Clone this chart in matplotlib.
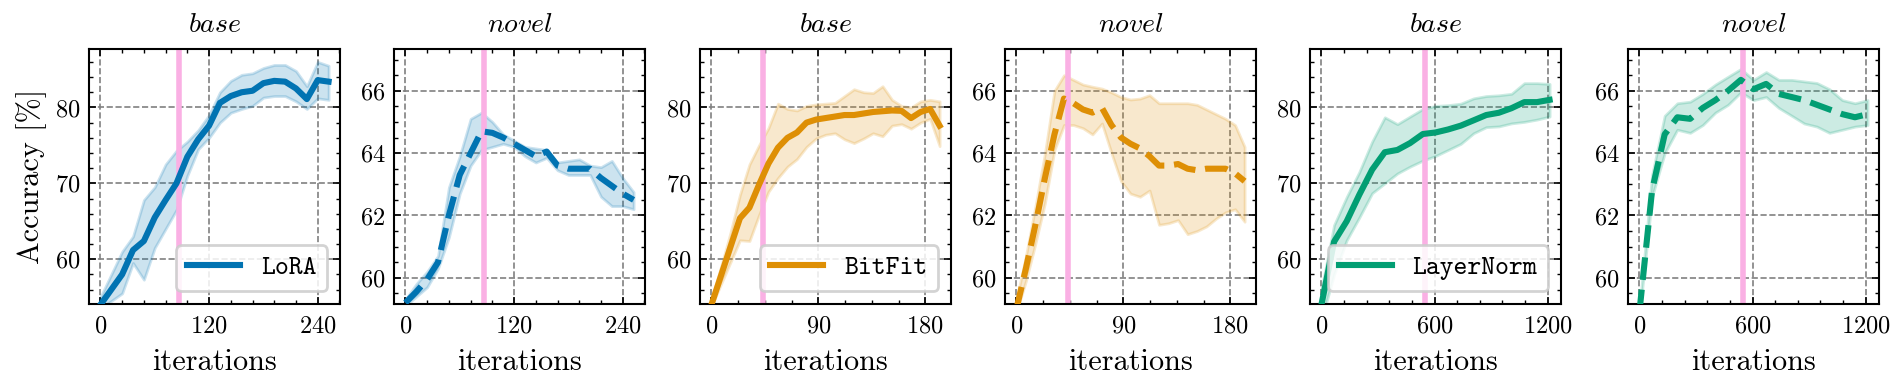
import matplotlib
matplotlib.use("Agg")
import matplotlib.pyplot as plt
from matplotlib.ticker import MultipleLocator

# ---- data ----
lora_iters = [0, 12, 24, 36, 48, 60, 72, 84, 96, 108, 120, 132, 144, 156, 168, 180, 192, 204, 216, 228, 240, 252]
lora_base = [54.0, 56.0, 58.0, 61.2, 62.4, 65.5, 67.8, 70.0, 73.5, 75.8, 77.6, 80.6, 81.5, 82.0, 82.2, 83.2, 83.5, 83.4, 82.5, 81.1, 83.6, 83.4]
lora_base_hi = [55.0, 58.0, 61.0, 63.0, 67.8, 69.5, 72.5, 74.3, 75.5, 77.0, 79.0, 82.0, 83.5, 84.3, 84.5, 85.2, 85.6, 85.6, 84.8, 82.8, 86.0, 85.5]
lora_base_lo = [53.5, 54.5, 55.5, 59.5, 57.3, 61.5, 64.0, 66.5, 71.0, 74.5, 76.0, 78.0, 79.3, 79.8, 80.2, 81.3, 81.5, 81.5, 80.8, 79.8, 81.2, 81.0]
lora_novel = [59.2, 59.55, 59.95, 60.5, 62.0, 63.3, 64.0, 64.7, 64.65, 64.5, 64.3, 64.1, 63.9, 64.05, 63.6, 63.5, 63.5, 63.5, 63.2, 62.95, 62.7, 62.5]
lora_novel_hi = [59.3, 59.8, 60.2, 60.7, 62.9, 63.9, 65.1, 65.3, 65.0, 64.6, 64.4, 64.2, 64.15, 64.1, 63.7, 63.75, 63.8, 63.6, 63.55, 63.75, 63.2, 62.75]
lora_novel_lo = [59.1, 59.4, 59.7, 60.3, 61.3, 62.7, 63.6, 64.1, 64.2, 64.3, 64.2, 63.9, 63.7, 63.85, 63.45, 63.3, 63.3, 63.3, 62.6, 62.3, 62.3, 62.2]

bitfit_iters = [0, 8, 16, 24, 32, 40, 48, 56, 64, 72, 80, 88, 96, 104, 112, 120, 128, 136, 144, 152, 160, 168, 176, 184, 192]
bitfit_base = [54.0, 57.8, 61.6, 65.4, 66.8, 69.8, 72.6, 74.7, 76.0, 76.7, 78.0, 78.4, 78.6, 78.8, 79.0, 79.0, 79.2, 79.4, 79.5, 79.6, 79.55, 78.6, 79.4, 79.8, 77.6]
bitfit_base_hi = [54.6, 59.0, 63.5, 68.5, 72.5, 75.0, 77.3, 80.5, 79.8, 79.6, 80.2, 80.4, 80.5, 80.6, 81.5, 82.4, 82.0, 81.9, 82.8, 81.0, 80.2, 80.0, 80.8, 81.0, 80.8]
bitfit_base_lo = [53.8, 56.7, 59.6, 62.5, 62.4, 65.8, 68.9, 70.7, 72.2, 73.2, 74.8, 75.9, 76.4, 76.6, 75.8, 75.3, 75.9, 76.6, 76.2, 77.6, 77.8, 77.2, 78.0, 78.5, 74.9]
bitfit_novel = [59.0, 60.3, 61.7, 63.2, 64.6, 65.75, 65.6, 65.4, 65.3, 65.45, 64.9, 64.5, 64.3, 64.15, 63.9, 63.6, 63.6, 63.65, 63.5, 63.45, 63.5, 63.5, 63.5, 63.35, 63.1]
bitfit_novel_hi = [59.3, 60.7, 62.3, 64.0, 66.0, 66.5, 66.35, 66.2, 66.13, 66.07, 65.95, 65.8, 65.72, 65.75, 65.86, 65.6, 65.6, 65.6, 65.6, 65.55, 65.4, 65.25, 65.1, 64.9, 64.2]
bitfit_novel_lo = [58.9, 59.9, 61.1, 62.4, 64.1, 64.9, 64.9, 64.8, 64.6, 64.95, 64.0, 63.1, 62.7, 62.6, 62.8, 61.7, 61.75, 61.85, 61.4, 61.5, 61.65, 61.9, 62.1, 62.2, 61.8]

ln_iters = [0, 67, 134, 201, 269, 336, 403, 470, 538, 605, 672, 739, 807, 874, 941, 1008, 1076, 1143, 1210]
ln_base = [54.0, 62.3, 65.0, 68.5, 71.8, 74.1, 74.4, 75.3, 76.5, 76.7, 77.1, 77.6, 78.3, 79.0, 79.3, 79.9, 80.7, 80.7, 81.0]
ln_base_hi = [56.0, 64.5, 68.2, 71.5, 75.5, 78.7, 77.8, 78.8, 79.8, 80.2, 80.3, 80.5, 81.2, 81.5, 81.6, 81.8, 83.2, 83.2, 83.1]
ln_base_lo = [52.0, 58.0, 62.5, 65.5, 68.7, 70.0, 71.3, 72.2, 73.0, 73.6, 74.4, 75.2, 76.6, 77.4, 77.5, 77.9, 78.1, 78.4, 78.8]
ln_novel = [58.9, 62.8, 64.6, 65.15, 65.1, 65.45, 65.7, 66.0, 66.35, 66.05, 66.22, 65.9, 65.8, 65.7, 65.55, 65.4, 65.25, 65.15, 65.25]
ln_novel_hi = [59.0, 63.3, 65.2, 65.6, 65.65, 65.9, 66.2, 66.45, 66.7, 66.35, 66.6, 66.35, 66.35, 66.3, 66.25, 66.05, 65.7, 65.6, 65.7]
ln_novel_lo = [58.8, 62.6, 64.0, 64.75, 64.65, 64.9, 65.3, 65.55, 65.95, 65.7, 65.8, 65.45, 65.2, 64.95, 64.85, 64.65, 64.75, 64.85, 64.9]

methods = ["LoRA", "BitFit", "LayerNorm"]
best_iter = [87, 43, 550]
x_major = [120, 90, 600]
x_minor = [24, 22.5, 120]
x_limits = [(-12.6, 264.6), (-9.6, 201.6), (-60.5, 1270.5)]

COLORS = ["#0173b2", "#de8f05", "#029e73"]
PINK = "#fab0e4"

plt.rcParams.update({
    "font.family": "serif",
    "font.serif": ["cmr10"],
    "mathtext.fontset": "cm",
    "axes.formatter.use_mathtext": True,
    "axes.linewidth": 0.75,
    "xtick.direction": "in",
    "ytick.direction": "in",
    "xtick.top": True,
    "ytick.right": True,
    "xtick.major.size": 2.6,
    "ytick.major.size": 2.6,
    "xtick.minor.size": 1.3,
    "ytick.minor.size": 1.3,
    "xtick.major.width": 0.6,
    "ytick.major.width": 0.6,
    "xtick.minor.width": 0.5,
    "ytick.minor.width": 0.5,
})


def draw_panel(ax, i, iters, mean, lo, hi, novel):
    c = COLORS[i]
    ax.fill_between(iters, lo, hi, color=c, alpha=0.2, lw=1, zorder=2)
    ax.axvline(best_iter[i], color=PINK, lw=2.0, zorder=2.5)
    ax.plot(iters, mean, color=c, lw=2.2, ls="--" if novel else "-",
            label=methods[i], zorder=3)

    ax.set_xlim(*x_limits[i])
    ax.xaxis.set_major_locator(MultipleLocator(x_major[i]))
    ax.xaxis.set_minor_locator(MultipleLocator(x_minor[i]))
    if novel:
        ax.set_ylim(59.16, 67.34)
        ax.yaxis.set_major_locator(MultipleLocator(2))
        ax.yaxis.set_minor_locator(MultipleLocator(0.5))
    else:
        ax.set_ylim(54.1, 87.7)
        ax.yaxis.set_major_locator(MultipleLocator(10))
        ax.yaxis.set_minor_locator(MultipleLocator(2))

    ax.grid(True, which="major", ls="--", color="#808080", lw=0.6)
    ax.set_axisbelow(True)
    ax.tick_params(which="both", labelsize=8.8)
    ax.tick_params(axis="x", pad=4)
    ax.tick_params(axis="y", pad=3)
    ax.set_title(r"$novel$" if novel else r"$base$", fontsize=10, pad=6)
    ax.set_xlabel("iterations", fontsize=10.9, labelpad=4)

    if not novel:
        ax.legend(loc="lower right", prop={"family": "cmtt10", "size": 9.5},
                  fancybox=True, edgecolor="#cccccc", framealpha=0.85,
                  borderaxespad=0.5, handlelength=2.0)


def main():
    fig = plt.figure(figsize=(9.51, 1.93), dpi=200)
    W, H = 1902, 386
    lefts = [89, 394, 700, 1005, 1310, 1628]
    axes = [fig.add_axes([l / W, 82 / H, 251 / W, 255 / H]) for l in lefts]

    panels = [
        (lora_iters, lora_base, lora_base_lo, lora_base_hi),
        (lora_iters, lora_novel, lora_novel_lo, lora_novel_hi),
        (bitfit_iters, bitfit_base, bitfit_base_lo, bitfit_base_hi),
        (bitfit_iters, bitfit_novel, bitfit_novel_lo, bitfit_novel_hi),
        (ln_iters, ln_base, ln_base_lo, ln_base_hi),
        (ln_iters, ln_novel, ln_novel_lo, ln_novel_hi),
    ]
    for k, (ax, p) in enumerate(zip(axes, panels)):
        draw_panel(ax, k // 2, *p, novel=(k % 2 == 1))

    axes[0].set_ylabel("Accuracy [%]", fontsize=10.9, labelpad=3)

    fig.savefig("out.png", dpi=200)


if __name__ == "__main__":
    main()
